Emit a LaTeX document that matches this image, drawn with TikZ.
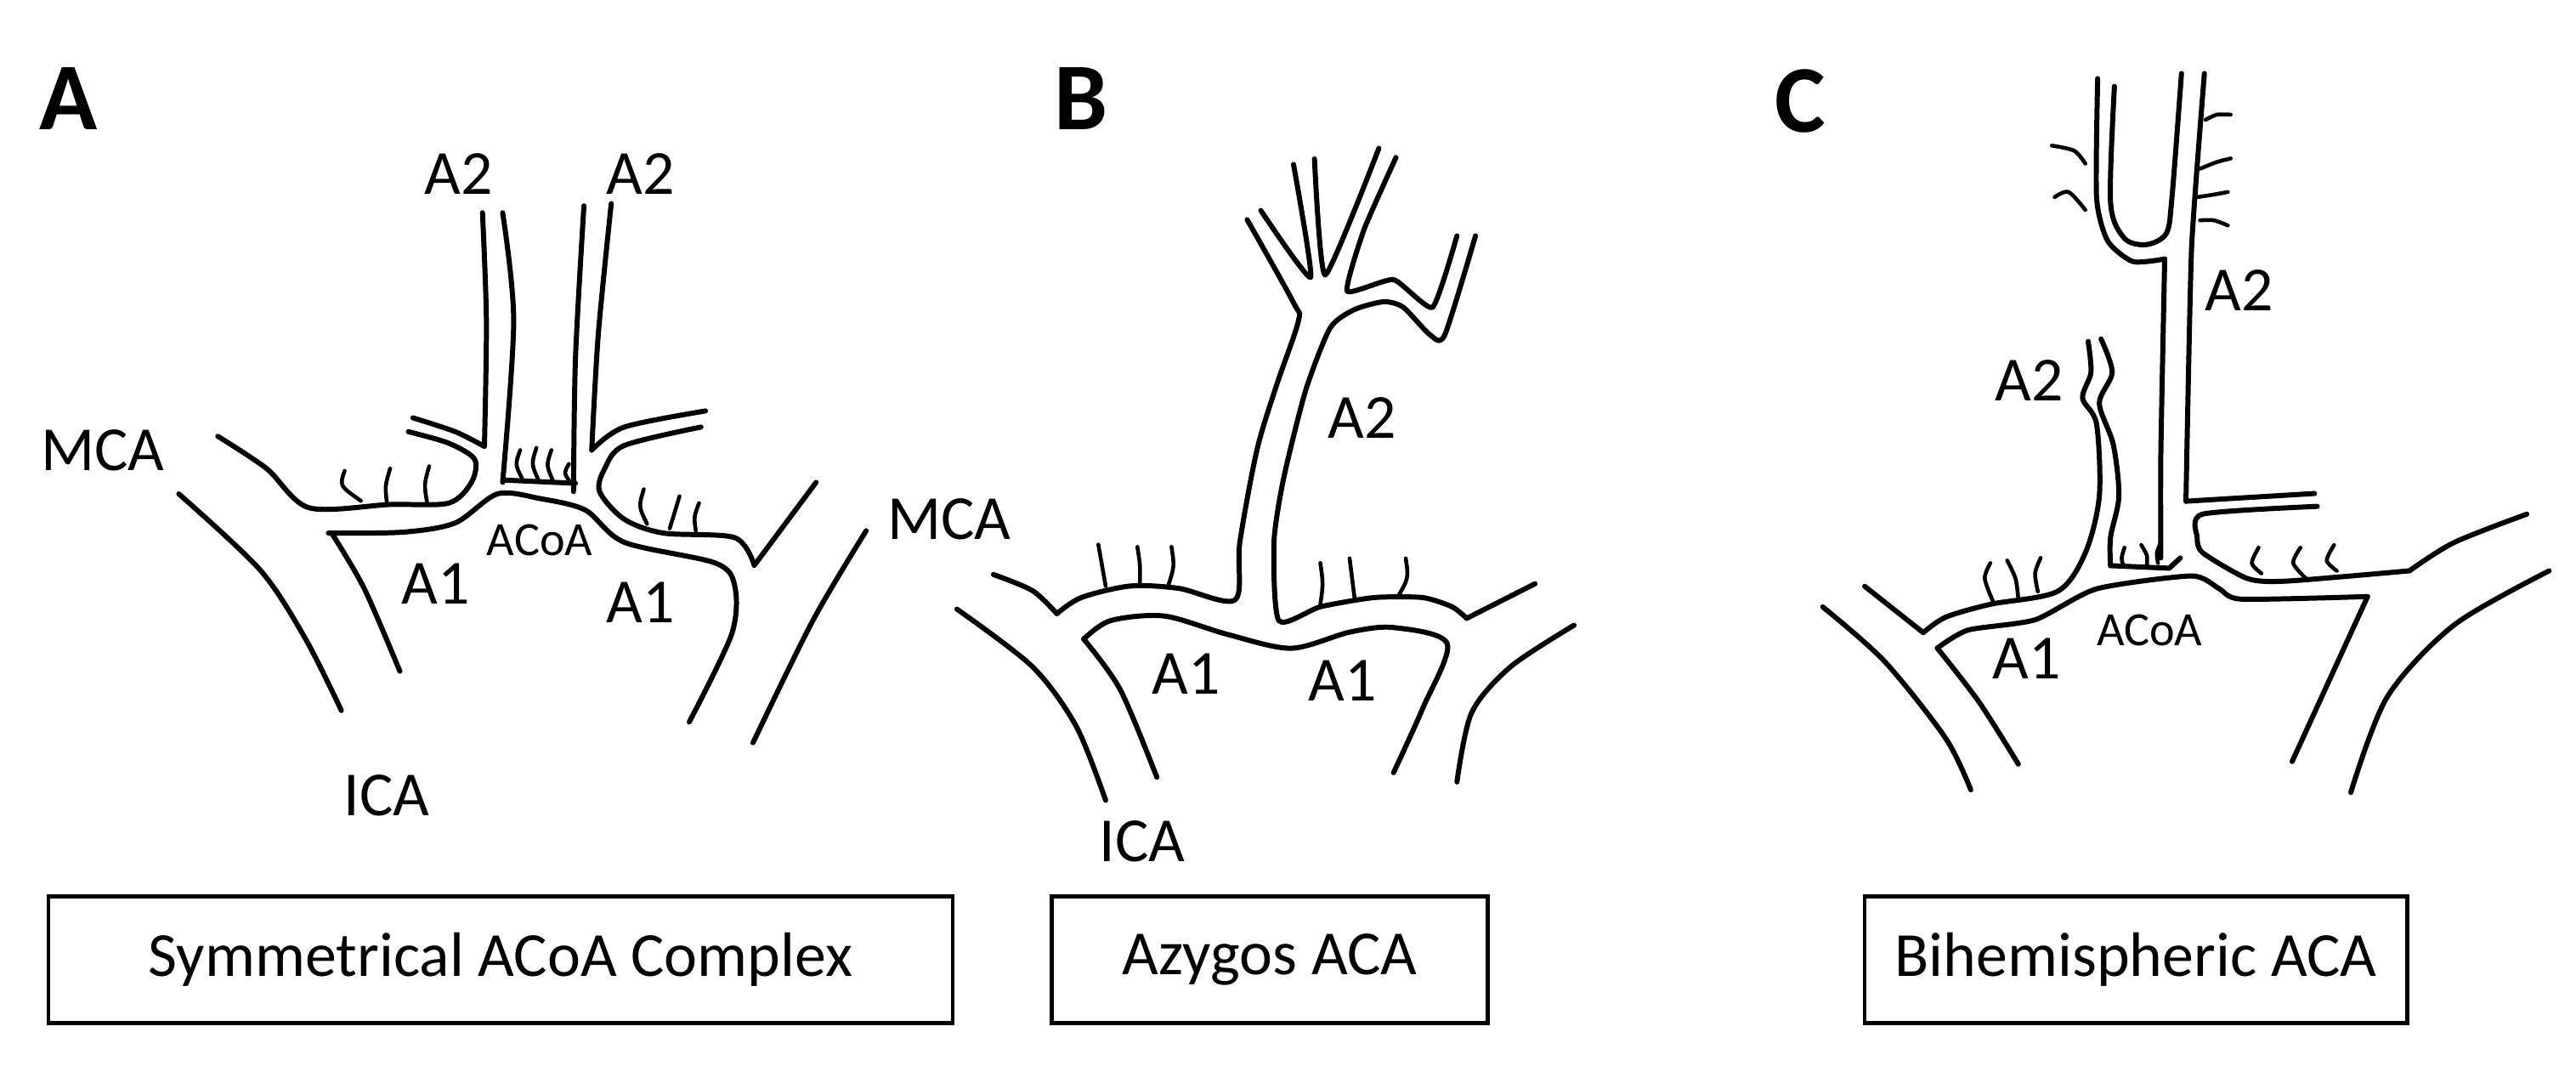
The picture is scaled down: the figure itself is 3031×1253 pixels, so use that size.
\documentclass[tikz,border=0pt]{standalone}
\usepackage{fontspec}
\setmainfont{Carlito}
\begin{document}
\begin{tikzpicture}[x=0.01cm,y=-0.01cm,
  v/.style={line width=1.7pt,line cap=round,line join=round},
  p/.style={line width=1.3pt,line cap=round},
  lab/.style={font=\fontsize{21}{23}\selectfont,inner sep=0pt},
  sm/.style={font=\fontsize{16}{18}\selectfont,inner sep=0pt},
  big/.style={font=\fontsize{32}{34}\selectfont\bfseries,inner sep=0pt},
  box/.style={draw,line width=1.3pt,font=\fontsize{21}{23}\selectfont,inner sep=0pt}]
\useasboundingbox (0,0) rectangle (3031,1253);
% ---------------- Panel A ----------------
\node[big] (la) at (81,116) {A};
\begin{scope}[shift={(0,150)},xscale=0.7651,yscale=0.5421]
\draw[v] plot[smooth,tension=0.5] coordinates{(742,185)(748,420)(745,690)};
\draw[v] plot[smooth,tension=0.5] coordinates{(635,630)(700,660)(745,692)};
\draw[v] plot[smooth,tension=0.5] coordinates{(335,670)(410,740)(475,825)(600,818)(690,815)(725,770)(730,720)(690,685)(628,660)};
\draw[v] plot[smooth,tension=0.5] coordinates{(773,185)(790,420)(773,770)};
\draw[v] plot[smooth,tension=0.5] coordinates{(898,170)(885,500)(882,790)};
\draw[v] (775,765) -- (885,772);
\draw[v] plot[smooth,tension=0.5] coordinates{(940,165)(920,450)(910,700)};
\draw[v] plot[smooth,tension=0.5] coordinates{(910,700)(960,650)(1085,615)};
\draw[v] plot[smooth,tension=0.5] coordinates{(1078,650)(960,690)(930,740)(922,790)(960,850)(1020,880)(1130,890)(1160,950)};
\draw[v] (1160,950) -- (1255,770);
\draw[v] plot[smooth,tension=0.5] coordinates{(505,880)(620,878)(700,858)(765,795)(830,805)(900,830)(960,900)(1100,945)(1130,995)(1125,1100)(1060,1290)};
\draw[v] plot[smooth,tension=0.5] coordinates{(510,880)(560,1000)(615,1180)};
\draw[v] plot[smooth,tension=0.5] coordinates{(275,795)(400,960)(470,1110)(525,1265)};
\draw[v] plot[smooth,tension=0.5] coordinates{(1332,875)(1250,1070)(1158,1335)};
\foreach \a/\b/\c/\d in {530/745/555/810,600/740/595/815,660/735/657/815,990/785/995/860,1045/800/1030/870,1075/815/1070/875,800/700/803/762,825/695/828/765,848/700/850/765,875/730/876/768}
  \draw[p] (\a,\b) .. controls (\a-8,{(\b+\d)/2}) .. (\c,\d);
\node[lab] (a2l) at (705,100) {A2};
\node[lab] (a2r) at (985,100) {A2};
\node[lab] (mcal) at (158,700) {MCA};
\node[sm] (acoa) at (830,895) {ACoA};
\node[lab] (a1l) at (670,990) {A1};
\node[lab] (a1r) at (985,1030) {A1};
\node[lab] (mcar) at (1460,850) {MCA};
\node[lab] (icaa) at (595,1450) {ICA};
\end{scope}
\node[box,minimum width=10.63cm,minimum height=1.49cm] (ba) at (589,1129) {Symmetrical ACoA Complex};
% ---------------- Panel B ----------------
\node[big] (lb) at (1272,116) {B};
\begin{scope}[shift={(1100,150)},xscale=0.5741,yscale=0.5421]
\draw[v] plot[smooth,tension=0.5] coordinates{(45,1045)(200,1170)(290,1300)(350,1460)};
\draw[v] plot[smooth,tension=0.5] coordinates{(120,970)(200,1005)(250,1055)};
\draw[v] plot[smooth,tension=0.5] coordinates{(250,1055)(300,1020)(400,995)(500,1000)(615,1025)(625,900)(660,700)(700,560)(745,420)(735,380)(640,200)};
\draw[v] plot[smooth,tension=0.3] coordinates{(668,180)(770,325)(735,80)};
\draw[v] plot[smooth,tension=0.3] coordinates{(778,68)(800,320)(910,45)};
\draw[v] plot[smooth,tension=0.3] coordinates{(945,65)(880,220)(845,355)(940,330)(1020,390)(1070,235)};
\draw[v] plot[smooth,tension=0.4] coordinates{(1108,235)(1045,450)(1015,450)(960,390)(920,378)(860,395)(810,435)(760,570)(715,760)(695,900)(705,1070)(790,1040)(900,1020)(1000,1020)(1060,1040)(1090,1065)};
\draw[v] (1090,1065) -- (1230,990);
\draw[v] plot[smooth,tension=0.5] coordinates{(305,1110)(360,1070)(470,1060)(600,1100)(730,1130)(850,1095)(940,1085)(1050,1120)(1000,1260)(940,1400)};
\draw[v] plot[smooth,tension=0.5] coordinates{(305,1110)(380,1220)(455,1410)};
\draw[v] plot[smooth,tension=0.5] coordinates{(1310,1080)(1180,1170)(1100,1270)(1070,1420)};
\foreach \a/\b/\c/\d in {335/905/350/995,415/910/420/990,485/910/478/995,790/945/790/1035,850/935/860/1020,965/935/948/1020}
  \draw[p] (\a,\b) .. controls (\a+6,{(\b+\d)/2}) .. (\c,\d);
\node[lab] (a2b) at (875,630) {A2};
\node[lab] (a1bl) at (515,1185) {A1};
\node[lab] (a1br) at (835,1200) {A1};
\end{scope}
\node[lab] (icab) at (1344,990) {ICA};
\node[box,minimum width=5.13cm,minimum height=1.49cm] (bb) at (1494,1129) {Azygos ACA};
% ---------------- Panel C ----------------
\node[big] (lc) at (2118,119) {C};
\begin{scope}[shift={(2000,50)},xscale=0.6575,yscale=0.6063]
\draw[v] plot[smooth,tension=0.5] coordinates{(220,1095)(330,1200)(440,1350)(485,1450)};
\draw[v] (295,1055) -- (400,1145);
\draw[v] plot[smooth,tension=0.5] coordinates{(400,1145)(440,1115)(520,1090)(640,1065)(690,990)(715,880)(710,740)(685,690)(700,640)(695,580)};
\draw[v] plot[smooth,tension=0.5] coordinates{(718,575)(738,640)(715,700)(740,780)(750,880)(735,960)(735,1015)};
\draw[v] (735,1015) -- (840,1020) -- (860,1000);
\draw[v] plot[smooth,tension=0.4] coordinates{(825,1000)(825,800)(832,420)};
\draw[v] plot[smooth,tension=0.4] coordinates{(832,420)(775,425)(730,385)(710,300)(712,70)};
\draw[v] plot[smooth,tension=0.5] coordinates{(742,85)(735,310)(760,380)(800,392)(835,370)(845,300)(862,60)};
\draw[v] plot[smooth,tension=0.3] coordinates{(903,60)(880,400)(870,890)};
\draw[v] (870,890) -- (1100,875);
\draw[v] plot[smooth,tension=0.4] coordinates{(1105,900)(900,915)(890,960)(900,990)(980,1040)(1050,1045)(1270,1025)};
\draw[v] plot[smooth,tension=0.5] coordinates{(1270,1025)(1350,970)(1480,915)};
\draw[v] plot[smooth,tension=0.4] coordinates{(425,1175)(480,1140)(600,1120)(710,1060)(880,1035)(930,1060)(970,1080)(1195,1075)};
\draw[v] (1195,1075) -- (1060,1395);
\draw[v] plot[smooth,tension=0.5] coordinates{(425,1175)(500,1280)(570,1400)};
\draw[v] plot[smooth,tension=0.5] coordinates{(1520,1025)(1350,1130)(1230,1270)(1165,1455)};
\foreach \a/\b/\c/\d/\e/\f in {520/1010/510/1040/525/1085,550/1005/565/1040/570/1080,610/1000/600/1030/605/1065,1000/980/988/1010/1005/1030,1075/980/1062/1010/1085/1040,1135/975/1122/1005/1140/1025,760/980/755/1000/758/1015,790/975/800/995/800/1015,825/970/818/990/820/1010,630/200/670/210/690/235,635/300/660/290/690/325,950/140/925/140/905/150,950/225/925/232/895/245,945/290/920/295/890/300,945/355/920/345/895/345}
  \draw[p] plot[smooth] coordinates{(\a,\b)(\c,\d)(\e,\f)};
\node[lab] (a2cr) at (965,480) {A2};
\node[lab] (a2cl) at (590,655) {A2};
\node[lab] (a1c) at (585,1195) {A1};
\node[sm] (acoac) at (805,1140) {ACoA};
\end{scope}
\node[box,minimum width=6.38cm,minimum height=1.49cm] (bc) at (2513,1129) {Bihemispheric ACA};
\end{tikzpicture}
\end{document}
